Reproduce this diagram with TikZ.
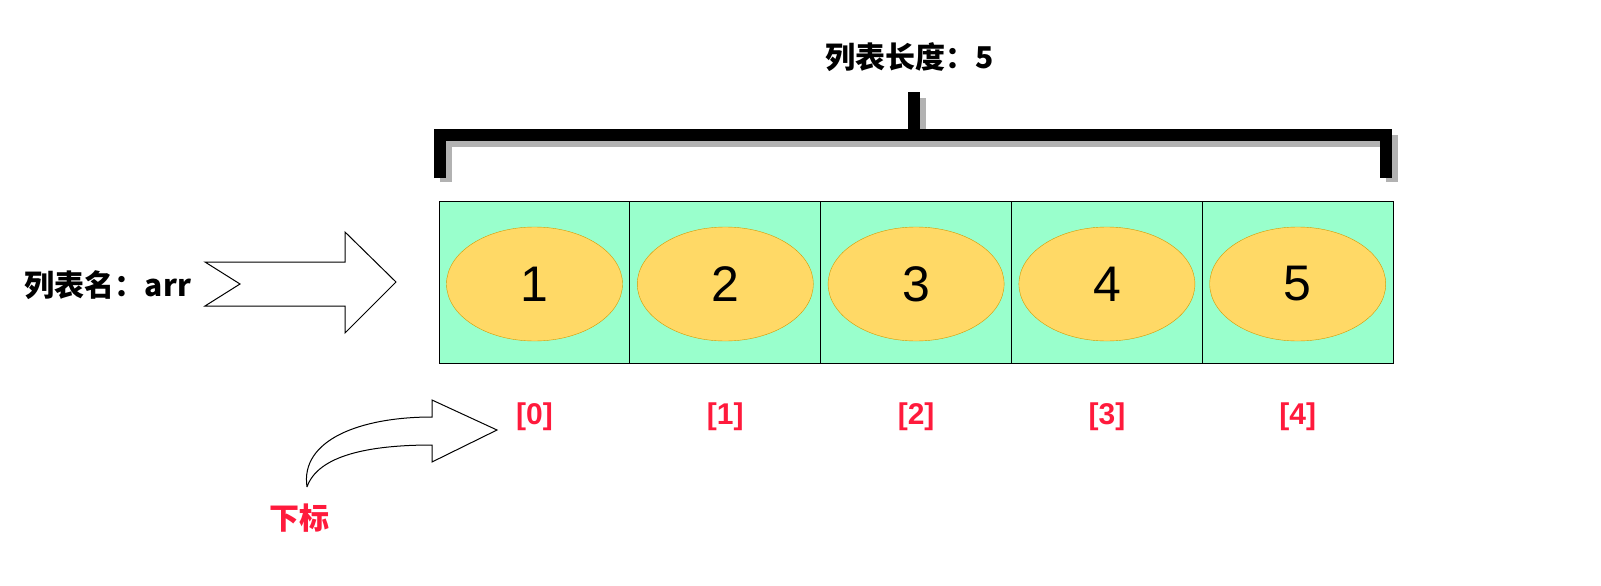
\documentclass[tikz,border=0pt]{standalone}
\usepackage{fontspec}
\setmainfont{Liberation Sans}
\newfontfamily\cjk{Noto Sans CJK SC}
\usetikzlibrary{shapes.geometric}
\definecolor{cellg}{HTML}{99FFCC}
\definecolor{ellf}{HTML}{FFD966}
\definecolor{elld}{HTML}{D49A00}
\definecolor{redt}{HTML}{FF1A3C}
\tikzset{cell/.style={draw=black,fill=cellg,minimum width=191pt,minimum height=162pt,inner sep=0,line width=1pt},
 ell/.style={ellipse,draw=elld,fill=ellf,minimum width=176pt,minimum height=114pt,inner sep=0,font=\fontsize{50}{50}\selectfont},
 idx/.style={text=redt,font=\bfseries\fontsize{30}{30}\selectfont},
 lab/.style={font=\cjk\bfseries\fontsize{30}{30}\selectfont}}
\begin{document}
\begin{tikzpicture}[x=1pt,y=-1pt]
\useasboundingbox (0,0) rectangle (1601,586);
\foreach \i/\v in {0/1,1/2,2/3,3/4,4/5}{
 \node[cell] (c\i) at ({534.5+190.8*\i},282) {};
 \node[ell] (e\i) at ({534.5+190.8*\i},284) {\v};
 \node[idx] (i\i) at ({534.5+190.8*\i},417) {[\i]};
}
% bracket shadow
\draw[gray!60,line width=12pt] (446,182)--(446,141)--(1392,141)--(1392,182);
\draw[gray!60,line width=12pt] (920,98)--(920,141);
\draw[black,line width=12pt] (440,178)--(440,135)--(1386,135)--(1386,178);
\draw[black,line width=12pt] (914,92)--(914,135);
\node[lab] (title) at (910,57) {列表长度：\textbf{5}};
\node[lab] (name) at (108,285) {列表名：\textbf{arr}};
\draw[line width=1pt] (205,262)--(345,262)--(345,232)--(396,282)--(345,333)--(345,306)--(205,306)--(240,284)--cycle;
\draw[line width=1pt] (307,487) .. controls (300,440) and (360,417) .. (432,417) -- (432,400) -- (497,430) -- (432,462) -- (432,445) .. controls (370,445) and (318,455) .. (307,487);
\node[lab,text=redt] (sub) at (299,518) {下标};
\end{tikzpicture}
\end{document}
